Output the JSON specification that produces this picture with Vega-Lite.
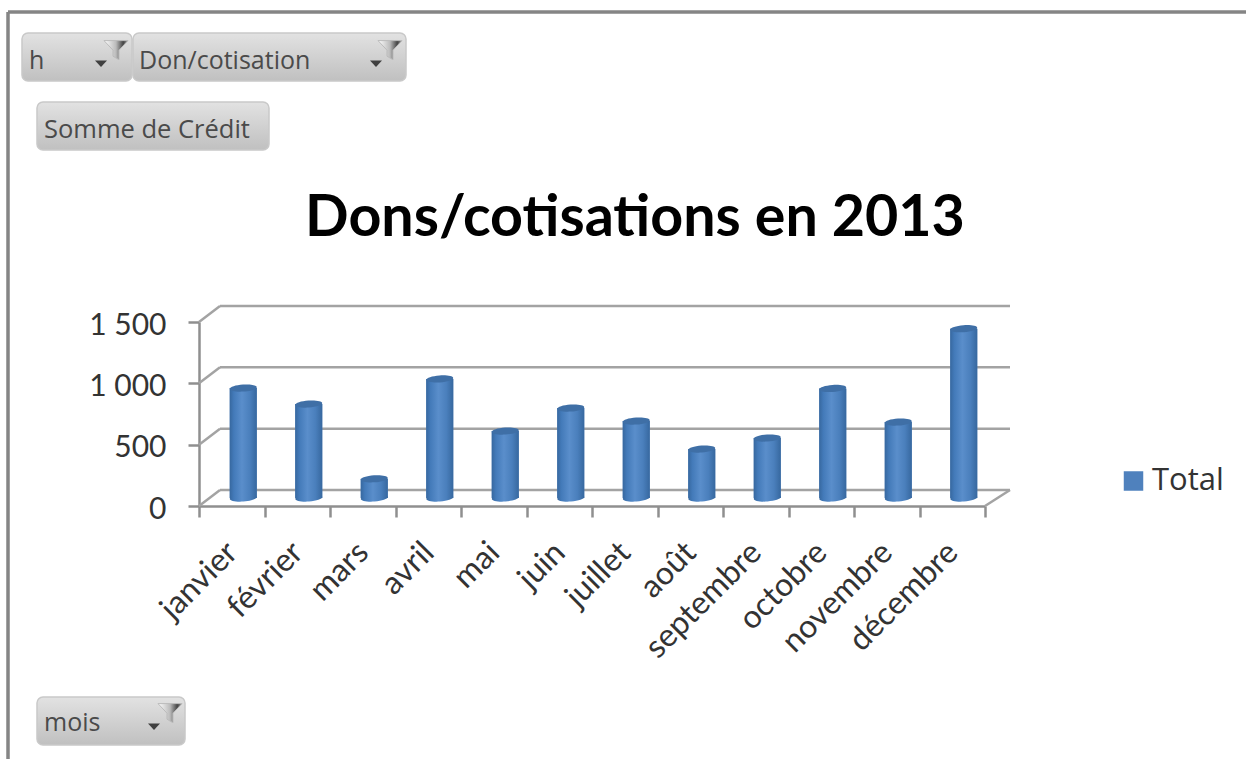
{
"$schema":"https://vega.github.io/schema/vega-lite/v6.json",
"autosize":{"type":"none"},
"padding":{"left":199,"top":322,"right":261,"bottom":253},
"width":786,"height":184,
"background":"white",
"config":{"view":{"stroke":null}},
"datasets":{
"months":[
{"mois":"janvier","credit":896,"serie":"Total"},
{"mois":"février","credit":766,"serie":"Total"},
{"mois":"mars","credit":156,"serie":"Total"},
{"mois":"avril","credit":971,"serie":"Total"},
{"mois":"mai","credit":546,"serie":"Total"},
{"mois":"juin","credit":733,"serie":"Total"},
{"mois":"juillet","credit":627,"serie":"Total"},
{"mois":"août","credit":399,"serie":"Total"},
{"mois":"septembre","credit":489,"serie":"Total"},
{"mois":"octobre","credit":893,"serie":"Total"},
{"mois":"novembre","credit":619,"serie":"Total"},
{"mois":"décembre","credit":1380,"serie":"Total"}],
"grid":[{"v":0},{"v":500},{"v":1000},{"v":1500}]
},
"data":{"name":"months"},
"encoding":{
"x":{"field":"mois","type":"nominal","sort":null,"title":null,"scale":{"type":"band","paddingInner":0,"paddingOuter":0},
"axis":{"labelAngle":-45,"labelAlign":"right","labelBaseline":"middle","labelFont":"Lato","labelFontSize":32,"labelColor":"#333333","labelPadding":30,"labelOverlap":false,"tickBand":"extent","tickSize":11,"tickWidth":2.5,"tickColor":"#8f8f8f","domainWidth":2.5,"domainColor":"#8f8f8f","grid":false}}
},
"layer":[
{"data":{"name":"grid"},"mark":{"type":"rule","color":"#a3a3a3","strokeWidth":2.5,"yOffset":-16},
 "encoding":{"x":{"value":21},"x2":{"value":811},"y":{"field":"v","type":"quantitative","scale":{"domain":[0,1500],"nice":false},"title":null,
 "axis":{"values":[0,500,1000,1500],"labelExpr":"replace(datum.label,',',' ')","labelFont":"Lato","labelFontSize":30,"labelColor":"#333333","labelPadding":22,"labelOffset":3,"tickSize":11,"tickWidth":2.5,"tickColor":"#8f8f8f","domainWidth":2.5,"domainColor":"#8f8f8f","grid":false}}}},
{"data":{"name":"grid"},"mark":{"type":"rule","color":"#a3a3a3","strokeWidth":2.5,"y2Offset":-16},
 "encoding":{"x":{"value":0},"x2":{"value":21},"y":{"field":"v","type":"quantitative","scale":{"domain":[0,1500],"nice":false}},"y2":{"field":"v"}}},
{"data":{"values":[{"v":0}]},"mark":{"type":"rule","color":"#a3a3a3","strokeWidth":2.5,"y2Offset":-16},
 "encoding":{"x":{"value":786},"x2":{"value":811},"y":{"field":"v","type":"quantitative","scale":{"domain":[0,1500],"nice":false}},"y2":{"field":"v"}}},
{"mark":{"type":"bar","size":27,"xOffset":11.5,"x2Offset":11.5,"yOffset":-8,"y2Offset":-8},
 "encoding":{"y":{"field":"credit","type":"quantitative","scale":{"domain":[0,1500],"nice":false}},
 "color":{"field":"serie","type":"nominal","scale":{"domain":["Total"],"range":["#4f81bd"]},
 "legend":{"title":null,"orient":"none","legendX":919,"legendY":143.5,"symbolType":"square","symbolSize":380,"labelFont":"Open Sans","labelFontSize":31,"labelColor":"#333333","labelOffset":3,"symbolStrokeWidth":0}}}},
{"mark":{"type":"point","shape":"M -1 0 A 1 0.26 0 1 0 1 0 A 1 0.26 0 1 0 -1 0 Z","size":729,"filled":true,"opacity":1,"xOffset":11.5,"yOffset":-8,"angle":-4,
 "fill":{"gradient":"linear","x1":0,"x2":1,"y1":0,"y2":0,"stops":[{"offset":0,"color":"#37689f"},{"offset":0.15,"color":"#437ab9"},{"offset":0.45,"color":"#5a8ecb"},{"offset":0.75,"color":"#4a7fbc"},{"offset":1,"color":"#37689f"}]}},
 "encoding":{"y":{"datum":0,"type":"quantitative","scale":{"domain":[0,1500],"nice":false}}}},
{"mark":{"type":"bar","size":27,"xOffset":11.5,"x2Offset":11.5,"yOffset":-8,"y2Offset":-8,
 "fill":{"gradient":"linear","x1":0,"x2":1,"y1":0,"y2":0,"stops":[{"offset":0,"color":"#37689f"},{"offset":0.15,"color":"#437ab9"},{"offset":0.45,"color":"#5a8ecb"},{"offset":0.75,"color":"#4a7fbc"},{"offset":1,"color":"#37689f"}]}},
 "encoding":{"y":{"field":"credit","type":"quantitative","scale":{"domain":[0,1500],"nice":false}}}},
{"mark":{"type":"point","shape":"M -1 0 A 1 0.26 0 1 0 1 0 A 1 0.26 0 1 0 -1 0 Z","size":729,"filled":true,"opacity":1,"color":"#3f6fa6","xOffset":11.5,"yOffset":-8,"angle":-4},
 "encoding":{"y":{"field":"credit","type":"quantitative","scale":{"domain":[0,1500],"nice":false}}}},

{"data":{"values":[{"titre":"Dons/cotisations en 2013"}]},"mark":{"type":"text","font":"Lato","fontWeight":"bold","fontSize":57.4,"color":"#000000","align":"center","baseline":"alphabetic"},"encoding":{"text":{"field":"titre"},"x":{"value":436},"y":{"value":-86}}},

{"data":{"values":[{"k":"cadre"}]},"mark":{"type":"rule","color":"#858585","strokeWidth":3.5},"encoding":{"x":{"value":-191},"x2":{"value":1047},"y":{"value":-310}}},
{"data":{"values":[{"k":"cadre"}]},"mark":{"type":"rule","color":"#858585","strokeWidth":3.5},"encoding":{"x":{"value":-191},"y":{"value":-310},"y2":{"value":437}}},

{"data":{"values":[{"label":"h"}]},"mark":{"type":"rect","cornerRadius":6,"stroke":"#c9c9c9","strokeWidth":1.5,"fill":{"gradient":"linear","x1":0,"x2":0,"y1":0,"y2":1,"stops":[{"offset":0,"color":"#e2e2e2"},{"offset":1,"color":"#c0c0c0"}]}},"encoding":{"x":{"value":-177},"x2":{"value":-67},"y":{"value":-289},"y2":{"value":-241}}},
{"data":{"values":[{"label":"Don/cotisation"}]},"mark":{"type":"rect","cornerRadius":6,"stroke":"#c9c9c9","strokeWidth":1.5,"fill":{"gradient":"linear","x1":0,"x2":0,"y1":0,"y2":1,"stops":[{"offset":0,"color":"#e2e2e2"},{"offset":1,"color":"#c0c0c0"}]}},"encoding":{"x":{"value":-66},"x2":{"value":207},"y":{"value":-289},"y2":{"value":-241}}},
{"data":{"values":[{"label":"Somme de Crédit"}]},"mark":{"type":"rect","cornerRadius":6,"stroke":"#c9c9c9","strokeWidth":1.5,"fill":{"gradient":"linear","x1":0,"x2":0,"y1":0,"y2":1,"stops":[{"offset":0,"color":"#e2e2e2"},{"offset":1,"color":"#c0c0c0"}]}},"encoding":{"x":{"value":-162},"x2":{"value":70},"y":{"value":-220},"y2":{"value":-172}}},
{"data":{"values":[{"label":"mois"}]},"mark":{"type":"rect","cornerRadius":6,"stroke":"#c9c9c9","strokeWidth":1.5,"fill":{"gradient":"linear","x1":0,"x2":0,"y1":0,"y2":1,"stops":[{"offset":0,"color":"#e2e2e2"},{"offset":1,"color":"#c0c0c0"}]}},"encoding":{"x":{"value":-162},"x2":{"value":-14},"y":{"value":375},"y2":{"value":423}}},

{"data":{"values":[{"label":"h"}]},"mark":{"type":"text","font":"Open Sans","fontSize":25,"color":"#4a4a4a","align":"left","baseline":"alphabetic"},"encoding":{"text":{"field":"label"},"x":{"value":-170},"y":{"value":-253}}},
{"data":{"values":[{"label":"Don/cotisation"}]},"mark":{"type":"text","font":"Open Sans","fontSize":25,"color":"#4a4a4a","align":"left","baseline":"alphabetic"},"encoding":{"text":{"field":"label"},"x":{"value":-60},"y":{"value":-253}}},
{"data":{"values":[{"label":"Somme de Crédit"}]},"mark":{"type":"text","font":"Open Sans","fontSize":25.5,"color":"#4a4a4a","align":"left","baseline":"alphabetic"},"encoding":{"text":{"field":"label"},"x":{"value":-155},"y":{"value":-184}}},
{"data":{"values":[{"label":"mois"}]},"mark":{"type":"text","font":"Open Sans","fontSize":25,"color":"#4a4a4a","align":"left","baseline":"alphabetic"},"encoding":{"text":{"field":"label"},"x":{"value":-155},"y":{"value":409}}},

{"data":{"values":[{"label":"h"}]},"mark":{"type":"point","shape":"M -1 -0.7 L 1 -0.7 L 0.25 0.1 L 0.25 0.9 L -0.25 0.6 L -0.25 0.1 Z","size":576,"filled":true,"opacity":1,"stroke":"#bbbbbb","strokeWidth":1,"fill":{"gradient":"linear","x1":0,"x2":1,"y1":0,"y2":0,"stops":[{"offset":0,"color":"#ffffff"},{"offset":0.5,"color":"#bbbbbb"},{"offset":0.8,"color":"#444444"},{"offset":1,"color":"#888888"}]}},"encoding":{"x":{"value":-83},"y":{"value":-273}}},
{"data":{"values":[{"label":"Don/cotisation"}]},"mark":{"type":"point","shape":"M -1 -0.7 L 1 -0.7 L 0.25 0.1 L 0.25 0.9 L -0.25 0.6 L -0.25 0.1 Z","size":576,"filled":true,"opacity":1,"stroke":"#bbbbbb","strokeWidth":1,"fill":{"gradient":"linear","x1":0,"x2":1,"y1":0,"y2":0,"stops":[{"offset":0,"color":"#ffffff"},{"offset":0.5,"color":"#bbbbbb"},{"offset":0.8,"color":"#444444"},{"offset":1,"color":"#888888"}]}},"encoding":{"x":{"value":191},"y":{"value":-273}}},
{"data":{"values":[{"label":"mois"}]},"mark":{"type":"point","shape":"M -1 -0.7 L 1 -0.7 L 0.25 0.1 L 0.25 0.9 L -0.25 0.6 L -0.25 0.1 Z","size":576,"filled":true,"opacity":1,"stroke":"#bbbbbb","strokeWidth":1,"fill":{"gradient":"linear","x1":0,"x2":1,"y1":0,"y2":0,"stops":[{"offset":0,"color":"#ffffff"},{"offset":0.5,"color":"#bbbbbb"},{"offset":0.8,"color":"#444444"},{"offset":1,"color":"#888888"}]}},"encoding":{"x":{"value":-29},"y":{"value":390}}},

{"data":{"values":[{"label":"h"}]},"mark":{"type":"point","shape":"M -1 -0.5 L 1 -0.5 L 0 0.6 Z","size":144,"filled":true,"opacity":1,"color":"#404040"},"encoding":{"x":{"value":-98},"y":{"value":-258.5}}},
{"data":{"values":[{"label":"Don/cotisation"}]},"mark":{"type":"point","shape":"M -1 -0.5 L 1 -0.5 L 0 0.6 Z","size":144,"filled":true,"opacity":1,"color":"#404040"},"encoding":{"x":{"value":177},"y":{"value":-258.5}}},
{"data":{"values":[{"label":"mois"}]},"mark":{"type":"point","shape":"M -1 -0.5 L 1 -0.5 L 0 0.6 Z","size":144,"filled":true,"opacity":1,"color":"#404040"},"encoding":{"x":{"value":-45},"y":{"value":404.5}}}
]
}
